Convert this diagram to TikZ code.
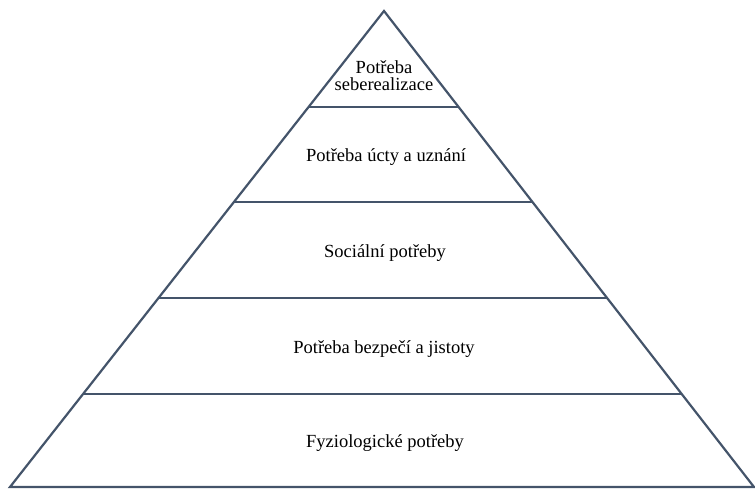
\documentclass[tikz,border=0pt]{standalone}
\usepackage{fontspec}
\setmainfont{Liberation Serif}
\usetikzlibrary{calc}
\definecolor{edge}{HTML}{44546A}
\begin{document}
\begin{tikzpicture}[x=1pt,y=-1pt,
  tier/.style={draw=edge,line width=2.2pt,line join=miter},
  lbl/.style={font=\fontsize{18.5}{17}\selectfont,text=black,align=center,anchor=base,inner sep=0pt}]
\useasboundingbox (0,0) rectangle (755,489);
\coordinate (A) at (384,11);
\coordinate (L) at (10,487);
\coordinate (R) at (754,487);
\draw[tier] (A) -- (L) -- (R) -- cycle;
\foreach \f [count=\i] in {0.2017,0.4013,0.6029,0.8046}{
  \coordinate (l\i) at ($(A)!\f!(L)$);
  \coordinate (r\i) at ($(A)!\f!(R)$);
  \draw[tier] (l\i) -- (r\i);
}
\node[lbl] (t1) at (384,91) {Potřeba\\seberealizace};
\node[lbl] (t2) at (386,162) {Potřeba úcty a uznání};
\node[lbl] (t3) at (385,258) {Sociální potřeby};
\node[lbl] (t4) at (384,353) {Potřeba bezpečí a jistoty};
\node[lbl] (t5) at (385,447) {Fyziologické potřeby};
\end{tikzpicture}
\end{document}
